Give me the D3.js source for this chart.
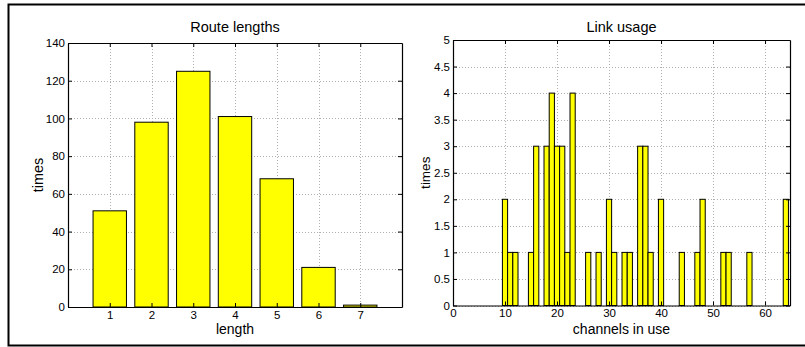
<!DOCTYPE html>
<html>
<head>
<meta charset="utf-8">
<script src="https://cdn.jsdelivr.net/npm/d3@7"></script>
<style>
  body { margin: 0; background: #fff; }
  svg { display: block; font-family: "Liberation Sans", Arial, sans-serif; }
  .grid line { stroke: #b0b0b0; stroke-dasharray: 1,2; }
</style>
</head>
<body>
<div id="chart"></div>
<script>
// Route lengths
const lengths = [1, 2, 3, 4, 5, 6, 7];
const lengthTimes = [51, 98, 125, 101, 68, 21, 1];
const lengthTicksY = [0, 20, 40, 60, 80, 100, 120, 140];

// Link usage (channels in use -> times)
const channels = [10, 11, 12, 15, 16, 18, 19, 20, 21, 22, 23, 26, 28, 30, 31, 33, 34, 36, 37, 38, 40, 44, 47, 48, 52, 53, 57, 64];
const channelTimes = [2, 1, 1, 1, 3, 3, 4, 3, 3, 1, 4, 1, 1, 2, 1, 1, 1, 3, 3, 1, 2, 1, 1, 2, 1, 1, 1, 2];
const channelTicksX = [0, 10, 20, 30, 40, 50, 60];
const channelTicksY = [0, 0.5, 1, 1.5, 2, 2.5, 3, 3.5, 4, 4.5, 5];

const W = 805, H = 347;
const svg = d3.select('#chart').append('svg')
  .attr('width', W)
  .attr('height', H);

// outer frame (right edge falls outside the picture)
svg.append('rect')
  .attr('x', 8.5).attr('y', 4.5)
  .attr('width', 820).attr('height', 341)
  .attr('fill', 'none')
  .attr('stroke', '#000')
  .attr('stroke-width', 2);

function drawPanel(opt) {
  const x = d3.scaleLinear().domain(opt.xDomain).range([opt.left, opt.right]);
  const y = d3.scaleLinear().domain(opt.yDomain).range([opt.bottom, opt.top]);
  const g = svg.append('g');

  // dotted grid
  const grid = g.append('g').attr('class', 'grid');
  grid.selectAll('.gx').data(opt.xTicks).join('line')
    .attr('x1', d => Math.round(x(d)) + 0.5).attr('x2', d => Math.round(x(d)) + 0.5)
    .attr('y1', opt.top).attr('y2', opt.bottom);
  grid.selectAll('.gy').data(opt.yTicks).join('line')
    .attr('y1', d => Math.round(y(d)) + 0.5).attr('y2', d => Math.round(y(d)) + 0.5)
    .attr('x1', opt.left).attr('x2', opt.right);

  // bars
  g.append('g').selectAll('rect')
    .data(opt.values.map((v, i) => ({ k: opt.keys[i], v })))
    .join('rect')
      .attr('x', d => x(d.k - opt.barWidth / 2))
      .attr('width', d => x(d.k + opt.barWidth / 2) - x(d.k - opt.barWidth / 2))
      .attr('y', d => y(d.v))
      .attr('height', d => y(0) - y(d.v))
      .attr('fill', '#ffff00')
      .attr('stroke', '#000')
      .attr('stroke-width', 1);

  const ts = 4; // inward tick length
  const fmt = opt.yFormat || (d => d);

  g.append('g')
    .attr('transform', `translate(0,${opt.bottom})`)
    .call(d3.axisBottom(x).tickValues(opt.xTicks).tickSizeInner(-ts).tickSizeOuter(0).tickPadding(3.5))
    .call(a => a.selectAll('text').style('font-size', '11.5px').attr('fill', '#000'));
  g.append('g')
    .attr('transform', `translate(${opt.left},0)`)
    .call(d3.axisLeft(y).tickValues(opt.yTicks).tickFormat(fmt).tickSizeInner(-ts).tickSizeOuter(0).tickPadding(3))
    .call(a => a.selectAll('text').style('font-size', '11.5px').attr('fill', '#000'));
  g.append('g')
    .attr('transform', `translate(0,${opt.top})`)
    .call(d3.axisTop(x).tickValues(opt.xTicks).tickFormat('').tickSizeInner(-ts).tickSizeOuter(0));
  g.append('g')
    .attr('transform', `translate(${opt.right},0)`)
    .call(d3.axisRight(y).tickValues(opt.yTicks).tickFormat('').tickSizeInner(-ts).tickSizeOuter(0));
  g.selectAll('.domain').attr('stroke', '#000').attr('stroke-width', 1.2);

  // texts
  const cx = (opt.left + opt.right) / 2;
  g.append('text').attr('x', cx).attr('y', 32).attr('text-anchor', 'middle')
    .style('font-size', '14.5px').text(opt.title);
  g.append('text').attr('x', cx).attr('y', 334).attr('text-anchor', 'middle')
    .style('font-size', '14px').text(opt.xLabel);
  g.append('text')
    .attr('transform', `translate(${opt.yLabelX},${(opt.top + opt.bottom) / 2}) rotate(-90)`)
    .attr('text-anchor', 'middle')
    .style('font-size', opt.yLabelSize).text('times');
}

drawPanel({
  left: 68, right: 402, top: 43, bottom: 307,
  xDomain: [0, 8], yDomain: [0, 140],
  xTicks: lengths, yTicks: lengthTicksY,
  keys: lengths, values: lengthTimes, barWidth: 0.8,
  title: 'Route lengths', xLabel: 'length',
  yLabelX: 43, yLabelSize: '14.5px'
});

drawPanel({
  left: 453, right: 790, top: 40, bottom: 305.5,
  xDomain: [0, 64.8], yDomain: [0, 5],
  xTicks: channelTicksX, yTicks: channelTicksY,
  yFormat: d3.format('~g'),
  keys: channels, values: channelTimes, barWidth: 1,
  title: 'Link usage', xLabel: 'channels in use',
  yLabelX: 430, yLabelSize: '13.5px'
});
</script>
</body>
</html>
